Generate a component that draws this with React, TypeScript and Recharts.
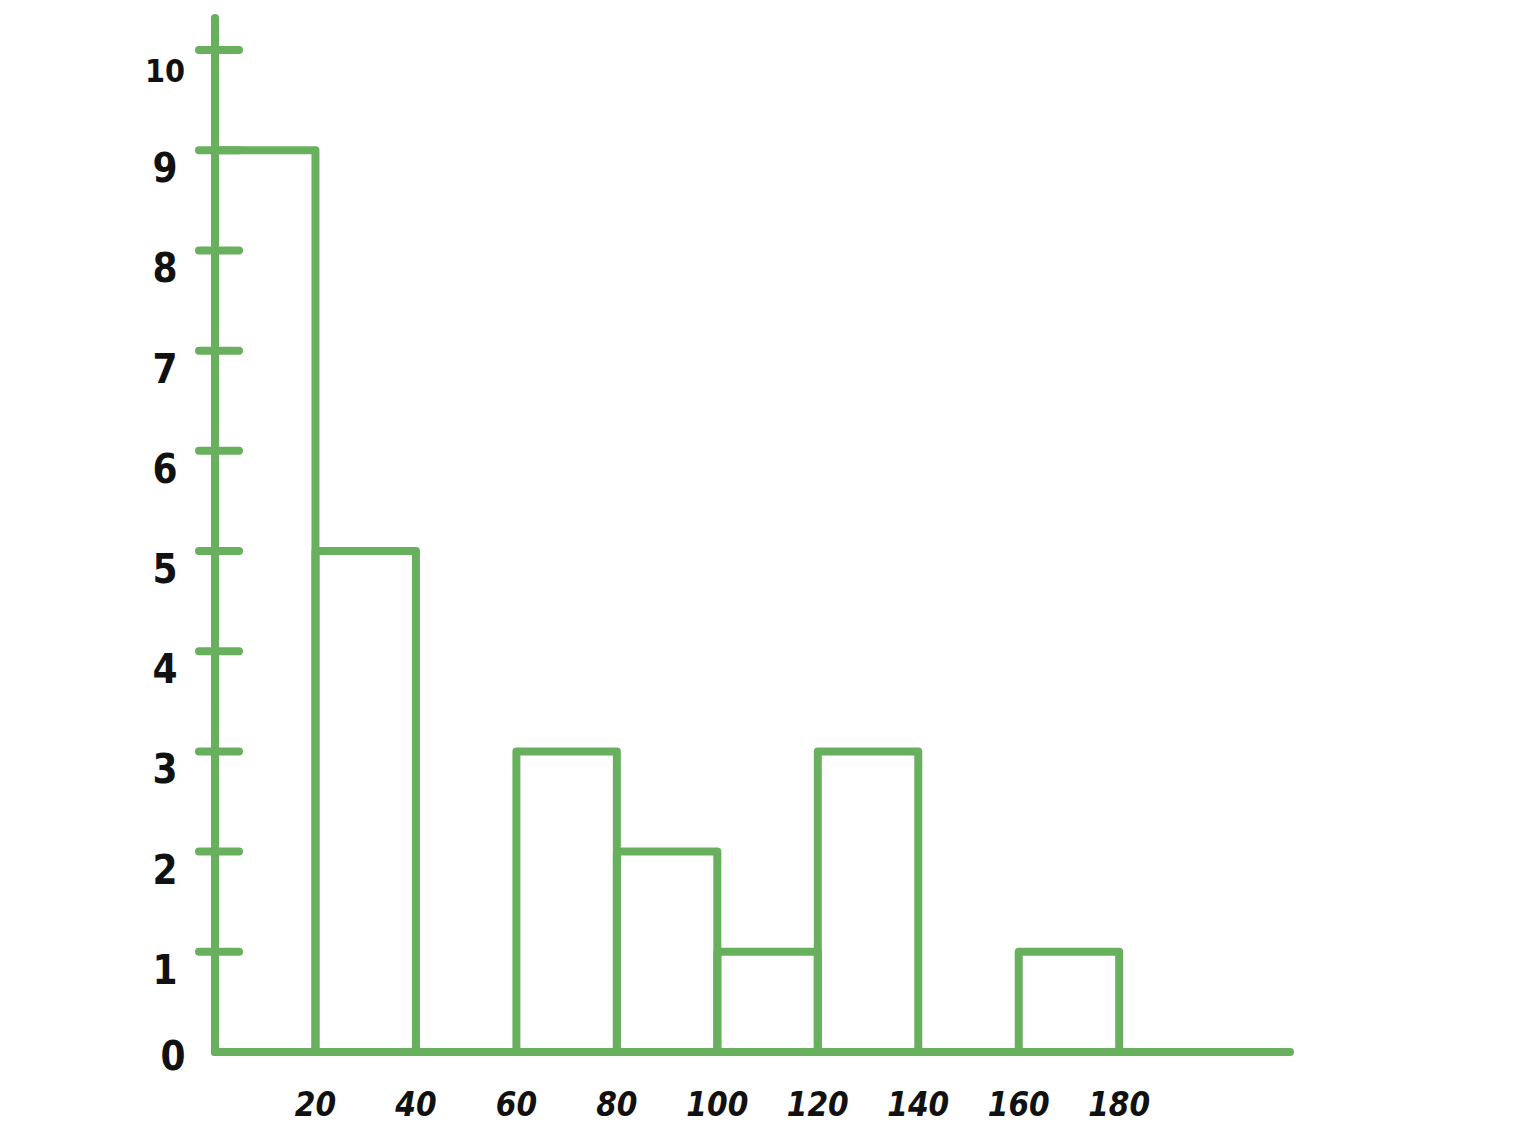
import { ComposedChart, XAxis, YAxis, ReferenceArea, Line } from "recharts";

// histogram bins (lower edge, upper edge, count)
const binStarts = [0, 20, 40, 60, 80, 100, 120, 140, 160];
const binEnds = [20, 40, 60, 80, 100, 120, 140, 160, 180];
const counts = [9, 5, 0, 3, 2, 1, 3, 0, 1];

const xTicks = [20, 40, 60, 80, 100, 120, 140, 160, 180];
const yTicks = [0, 1, 2, 3, 4, 5, 6, 7, 8, 9, 10];

const GREEN = "#68b05d";
const FONT = "'DejaVu Sans Condensed', 'DejaVu Sans', sans-serif";

const bins = binStarts.map((lo, i) => ({ lo, hi: binEnds[i], count: counts[i] }));

// eslint-disable-next-line @typescript-eslint/no-explicit-any
function YTick({ x, y, payload }: any) {
  const v = payload.value as number;
  return (
    <g>
      {v !== 0 && (
        <line
          x1={x - 16}
          x2={x + 24}
          y1={y}
          y2={y}
          stroke={GREEN}
          strokeWidth={8}
          strokeLinecap="round"
        />
      )}
      <text
        x={x - (v === 0 ? 42 : 50)}
        y={y + (v === 0 ? 18 : 32)}
        textAnchor="middle"
        fontFamily={FONT}
        fontWeight="bold"
        fontSize={v === 10 ? 32 : 40}
        fill="#111"
      >
        {v}
      </text>
    </g>
  );
}

// eslint-disable-next-line @typescript-eslint/no-explicit-any
function XTick({ x, y, payload }: any) {
  return (
    <text
      x={x}
      y={y + 64}
      textAnchor="middle"
      fontFamily={FONT}
      fontWeight="bold"
      fontStyle="italic"
      fontSize={33}
      fill="#111"
    >
      {payload.value}
    </text>
  );
}

export default function App() {
  return (
    <div style={{ position: "absolute", left: 0, top: 0, background: "#fff" }}>
      <ComposedChart
        width={1517}
        height={1138}
        data={bins}
        margin={{ top: 18, right: 227, bottom: 0, left: 15 }}
      >
        <XAxis
          type="number"
          dataKey="lo"
          domain={[0, 214]}
          ticks={xTicks}
          interval={0}
          axisLine={{ stroke: GREEN, strokeWidth: 8, strokeLinecap: "round" }}
          tickLine={false}
          tickSize={0}
          tickMargin={0}
          height={86}
          tick={<XTick />}
        />
        <YAxis
          type="number"
          domain={[0, 10.32]}
          ticks={yTicks}
          interval={0}
          width={200}
          axisLine={{ stroke: GREEN, strokeWidth: 8, strokeLinecap: "round" }}
          tickLine={false}
          tickSize={0}
          tickMargin={0}
          tick={<YTick />}
        />
        <Line dataKey="count" stroke="none" dot={false} isAnimationActive={false} />
        {bins
          .filter((b) => b.count > 0)
          .map((b) => (
            <ReferenceArea
              key={b.lo}
              x1={b.lo}
              x2={b.hi}
              y1={0}
              y2={b.count}
              fill="none"
              fillOpacity={0}
              stroke={GREEN}
              strokeWidth={8}
              strokeOpacity={1}
              strokeLinejoin="round"
            />
          ))}
      </ComposedChart>
    </div>
  );
}
